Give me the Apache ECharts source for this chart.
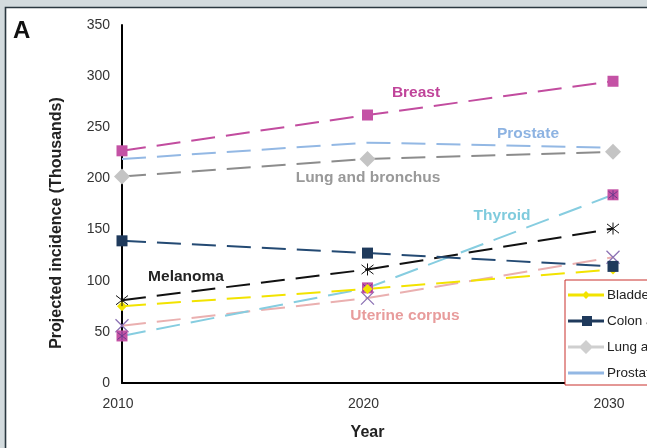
<!DOCTYPE html>
<html>
<head>
<meta charset="utf-8">
<script src="https://cdn.jsdelivr.net/npm/echarts@6/dist/echarts.min.js"></script>
<style>
html,body{margin:0;padding:0;background:#d3dbde;}
#c{width:647px;height:448px;}
</style>
</head>
<body>
<div id="c"></div>
<script>
const years = [2010, 2020, 2030];
const yTickMin = 0, yTickMax = 350, yTickStep = 50;
const legendNames = ['Bladder', 'Colon and rectum', 'Lung and bronchus', 'Prostate'];
const bladder  = [75, 92, 111];
const colon    = [139, 127, 114];
const lung     = [202, 219, 226];
const prostate = [219, 235, 230];
const breast   = [227, 262, 295];
const thyroid  = [46, 93, 184];
const melanoma = [81, 111, 151];
const uterine  = [56, 83, 123];
const labelTexts = ['Breast', 'Prostate', 'Lung and bronchus', 'Thyroid', 'Melanoma', 'Uterine corpus'];

const FONT = '"Liberation Sans", Arial, Helvetica, sans-serif';
const pts = arr => years.map((y, i) => [y, arr[i]]);
const DASH = [24, 11];
const X_PATH = 'path://M0,0L10,10M10,0L0,10';
const STAR_PATH = 'path://M0,0L10,10M10,0L0,10M5,-1.5L5,11.5';

function lineSeries(name, data, color, symbol, size, symColor, extra) {
  return Object.assign({
    name: name, type: 'line', data: pts(data),
    symbol: symbol, symbolSize: size, showSymbol: symbol !== 'none',
    lineStyle: {color: color, width: 2, type: DASH},
    itemStyle: {color: symColor},
    emphasis: {disabled: true}, animation: false
  }, extra || {});
}

function label(text, x, y, color) {
  return {type: 'text', z: 100, x: x, y: y, silent: true,
    style: {text: text, fill: color, font: 'bold 15.5px ' + FONT,
      textAlign: 'center', align: 'center', textVerticalAlign: 'middle', verticalAlign: 'middle'}};
}

const chart = echarts.init(document.getElementById('c'), null, {renderer: 'canvas'});
const option = {
  animation: false,
  backgroundColor: 'transparent',
  textStyle: {fontFamily: FONT},
  grid: {left: 122, right: 34, top: 25, bottom: 65, containLabel: false},
  xAxis: {
    type: 'value', min: years[0], max: years[years.length - 1], interval: 10,
    name: 'Year', nameLocation: 'middle', nameGap: 42,
    nameTextStyle: {fontFamily: FONT, fontWeight: 'bold', fontSize: 16, color: '#222'},
    axisLine: {show: true, lineStyle: {color: '#000', width: 2}},
    axisTick: {show: false}, splitLine: {show: false},
    axisLabel: {fontFamily: FONT, fontSize: 14, color: '#333', margin: 14,
      formatter: v => String(v), padding: [0, 8, 0, 0]}
  },
  yAxis: {
    type: 'value', min: yTickMin, max: yTickMax, interval: yTickStep,
    axisLine: {show: true, lineStyle: {color: '#000', width: 2}},
    axisTick: {show: false}, splitLine: {show: false},
    axisLabel: {fontFamily: FONT, fontSize: 14, color: '#333', margin: 12}
  },
  legend: {
    orient: 'vertical', left: 565, top: 280,
    data: [
      {name: legendNames[0], icon: 'path://M0,2.5H36V5.5H0Z M18,0L22,4L18,8L14,4Z'},
      {name: legendNames[1], icon: 'path://M0,3.5H36V6.5H0Z M14,0H24V10H14Z'},
      {name: legendNames[2], icon: 'path://M0,5.5H36V8.5H0Z M18,0L25,7L18,14L11,7Z', itemStyle: {color: '#cfcfcf'}},
      {name: legendNames[3], icon: 'path://M0,0H36V3H0Z'}
    ],
    itemWidth: 36, itemHeight: 14, itemGap: 12,
    padding: [8, 40, 5, 3],
    itemStyle: {borderWidth: 0},
    borderColor: '#c9302c', borderWidth: 1, backgroundColor: '#fff',
    textStyle: {fontFamily: FONT, fontSize: 13.5, color: '#222', padding: [0, 0, 0, -2]},
    selectedMode: false
  },
  graphic: [
    {type: 'rect', z: -100, silent: true, shape: {x: 5.5, y: 7.5, width: 700, height: 500},
      style: {fill: '#fff', stroke: '#2b3840', lineWidth: 1.6}},
    {type: 'text', z: 100, x: 13, y: 31, silent: true,
      style: {text: 'A', fill: '#111', font: 'bold 24px ' + FONT, textVerticalAlign: 'middle', verticalAlign: 'middle'}},
    {type: 'text', z: 100, x: 57, y: 223, rotation: Math.PI / 2, silent: true,
      style: {text: 'Projected incidence (Thousands)', fill: '#222', font: 'bold 16px ' + FONT,
        textAlign: 'center', align: 'center', textVerticalAlign: 'middle', verticalAlign: 'middle'}},
    label(labelTexts[0], 416, 93, '#c0449a'),
    label(labelTexts[1], 528, 134, '#8db3e2'),
    label(labelTexts[2], 368, 178, '#999999'),
    label(labelTexts[3], 502, 216, '#7fcbdd'),
    label(labelTexts[4], 186, 277, '#222222'),
    label(labelTexts[5], 405, 316, '#e89c9c')
  ],
  series: [
    lineSeries('Uterine corpus', uterine, '#eab0b0', X_PATH, 13, 'transparent',
      {itemStyle: {color: 'transparent', borderColor: '#8c72b4', borderWidth: 1.3}}),
    lineSeries('Thyroid', thyroid, '#86cde0', 'rect', 11, '#c452a5'),
    lineSeries('Thyroid mark', thyroid, 'transparent', STAR_PATH, 9, 'transparent',
      {lineStyle: {width: 0, opacity: 0}, itemStyle: {color: 'transparent', borderColor: '#6b3a8c', borderWidth: 1}}),
    lineSeries('Bladder', bladder, '#f2e300', 'diamond', 10, '#f2e300'),
    lineSeries('Melanoma', melanoma, '#111111', STAR_PATH, 12, 'transparent',
      {itemStyle: {color: 'transparent', borderColor: '#111', borderWidth: 1}}),
    lineSeries('Colon and rectum', colon, '#244a73', 'rect', 11, '#1f3a5c'),
    lineSeries('Prostate', prostate, '#93b8e4', 'none', 0, '#93b8e4'),
    lineSeries('Lung and bronchus', lung, '#8c8c8c', 'diamond', 16, '#c4c4c4'),
    lineSeries('Breast', breast, '#c24c9f', 'rect', 11, '#c452a5')
  ]
};
chart.setOption(option);
</script>
</body>
</html>
